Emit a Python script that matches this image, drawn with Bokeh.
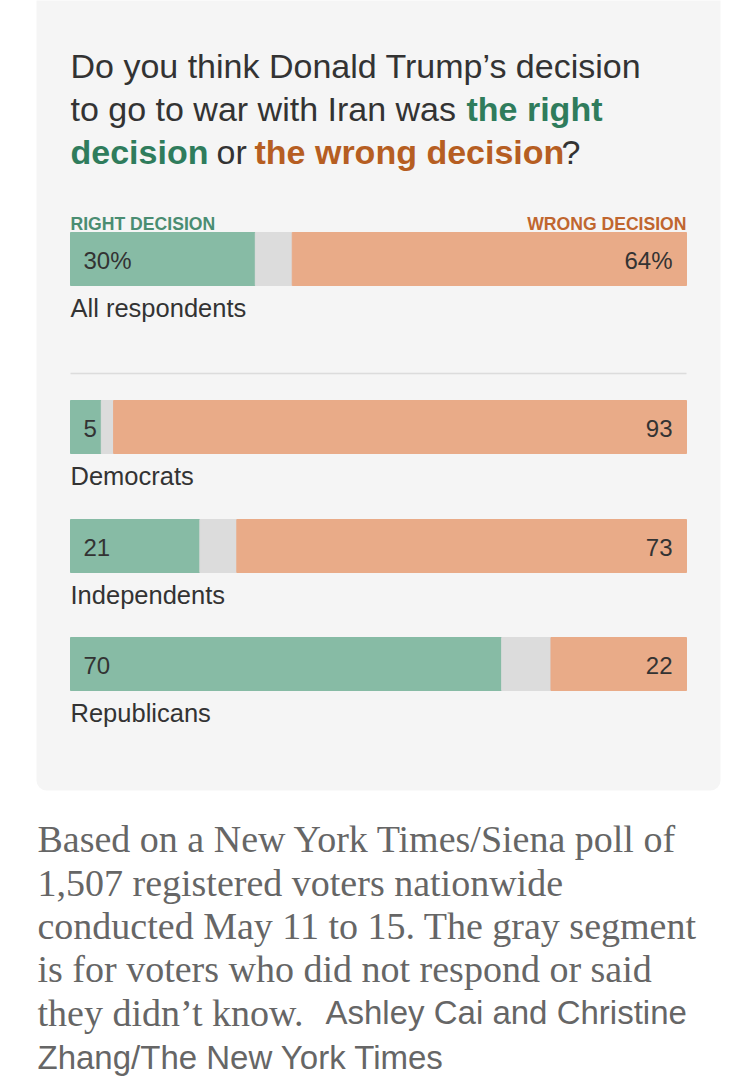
from bokeh.plotting import figure
from bokeh.models import Range1d, BoxAnnotation
from bokeh.embed import file_html
from bokeh.resources import INLINE
from bokeh.core.properties import value

# Poll results, percent of registered voters
groups = ["All respondents", "Democrats", "Independents", "Republicans"]
right_pct = [30, 5, 21, 70]
wrong_pct = [64, 93, 73, 22]
right_labels = ["30%", "5", "21", "70"]
wrong_labels = ["64%", "93", "73", "22"]

W, H = 756, 1080
SANS = "Liberation Sans"
SERIF = "Liberation Serif"

GREEN_BAR, GRAY_BAR, ORANGE_BAR = "#87bba5", "#dcdcdc", "#e9ab88"
GREEN_TXT, ORANGE_TXT = "#2f7c5c", "#b65e22"

p = figure(width=W, height=H, x_range=Range1d(0, W), y_range=Range1d(H, 0),
           output_backend="svg", toolbar_location=None, min_border=0)
p.axis.visible = False
p.grid.visible = False
p.outline_line_color = None
p.background_fill_color = "white"
p.border_fill_color = "white"

# percent scale for the bars: 0% at x=70px, 100% at x=686px
BAR_L, BAR_R = 70, 686
k = (BAR_R - BAR_L) / 100
p.extra_x_ranges = {"pct": Range1d(-BAR_L / k, (W - BAR_L) / k)}

# card background
p.add_layout(BoxAnnotation(left=36, right=720, top=-20, bottom=790,
                           fill_color="#f5f5f5", fill_alpha=1, line_color=None,
                           border_radius=10, level="underlay"))

def txt(x, y, s, size, color, style="normal", font=SANS, align="left",
        baseline="alphabetic", **kw):
    p.text(x=[x], y=[y], text=[s], text_font=value(font),
           text_font_size=f"{size}px", text_color=color, text_font_style=style,
           text_align=align, text_baseline=baseline, **kw)

# question
TS = 34
DARK = "#333333"
txt(70, 65, "Do you think Donald Trump\u2019s decision", TS, DARK)
txt(70, 108, "to go to war with Iran was", TS, DARK)
txt(466, 108, "the right", TS, GREEN_TXT, "bold")
txt(70, 151, "decision", TS, GREEN_TXT, "bold")
txt(216, 151, "or", TS, DARK)
txt(254, 151, "the wrong decision", TS, ORANGE_TXT, "bold")
txt(561, 151, "?", TS, DARK)

# column headers
txt(BAR_L, 223, "RIGHT DECISION", 17.6, "#4a8d72", "bold")
txt(BAR_R, 223, "WRONG DECISION", 17.6, "#c0662f", "bold", align="right")

# rows
row_center = [258.5, 426.5, 545.5, 663.5]
BH = 53
left_gray = right_pct
right_gray = [100 - w for w in wrong_pct]
p.hbar(y=row_center, left=0, right=right_pct, height=BH, color=GREEN_BAR,
       x_range_name="pct")
p.hbar(y=row_center, left=left_gray, right=right_gray, height=BH,
       color=GRAY_BAR, x_range_name="pct")
p.hbar(y=row_center, left=right_gray, right=100, height=BH, color=ORANGE_BAR,
       x_range_name="pct")

p.text(x=[0] * 4, y=[c + 1 for c in row_center], text=right_labels,
       x_range_name="pct", x_offset=13, text_font=value(SANS),
       text_font_size="24px", text_color=DARK, text_baseline="middle")
p.text(x=[100] * 4, y=[c + 1 for c in row_center], text=wrong_labels,
       x_range_name="pct", x_offset=-14, text_align="right",
       text_font=value(SANS), text_font_size="24px", text_color=DARK,
       text_baseline="middle")
p.text(x=[0] * 4, y=[c + BH / 2 + 22 for c in row_center], text=groups,
       x_range_name="pct", text_font=value(SANS), text_font_size="25.5px",
       text_color=DARK, text_baseline="middle")

# divider between the total and the party rows
p.line(x=[0, 100], y=[373, 373], x_range_name="pct", line_color="#dcdcdc",
       line_width=1.5)

# note and credit
NOTE = "#666666"
NS = 38
note_lines = [
    "Based on a New York Times/Siena poll of",
    "1,507 registered voters nationwide",
    "conducted May 11 to 15. The gray segment",
    "is for voters who did not respond or said",
    "they didn\u2019t know.",
]
base = [838, 882, 925, 968, 1012]
for s, b in zip(note_lines, base):
    txt(37, b, s, NS, NOTE, font=SERIF)
txt(325, 1012, "Ashley Cai and Christine", 33, NOTE)
txt(37, 1057, "Zhang/The New York Times", 33, NOTE)

open("out.html", "w").write(file_html(p, INLINE))
